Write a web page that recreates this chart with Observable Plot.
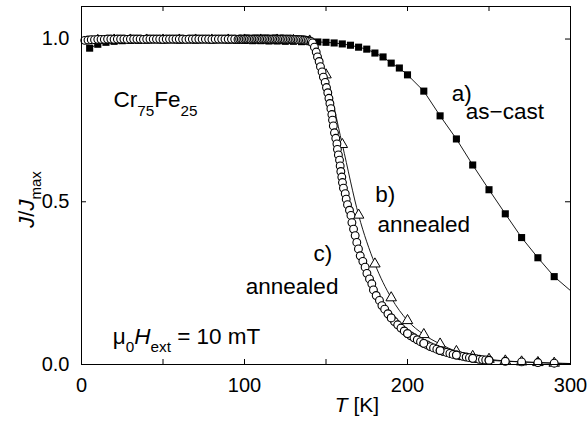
<!DOCTYPE html>
<html><head><meta charset="utf-8">
<script src="https://cdn.jsdelivr.net/npm/d3@7"></script>
<script src="https://cdn.jsdelivr.net/npm/@observablehq/plot@0.6"></script>
<style>html,body{margin:0;padding:0;background:#fff}</style>
</head><body><div id="chart"></div>
<script>
// a) as-cast (filled squares); last value at 300 K is line-only
const aT = [5,10,15,20,25,30,35,40,45,50,55,60,65,70,75,80,85,90,95,100,105,110,115,120,125,130,135,140,145,150,155,160,165,170,175,180,185,190,195,200,210,220,230,240,250,260,270,280,290,300];
const aJ = [0.972,0.984,0.990,0.993,0.995,0.996,0.996,0.997,0.997,0.997,0.997,0.997,0.997,0.997,0.997,0.997,0.997,0.997,0.996,0.996,0.995,0.995,0.994,0.994,0.993,0.993,0.992,0.992,0.991,0.990,0.988,0.985,0.981,0.975,0.969,0.957,0.945,0.926,0.911,0.890,0.840,0.764,0.693,0.613,0.537,0.463,0.390,0.328,0.270,0.227];

// b) annealed (open triangles)
const bT = [10,20,30,40,50,60,70,80,90,100,110,120,130,140,150,160,170,180,190,200,210,220,230,240,250,260,270,280,290,300];
const bJ = [0.996,0.997,0.997,0.997,0.997,0.997,0.997,0.997,0.997,0.997,0.997,0.997,0.996,0.994,0.890,0.676,0.459,0.309,0.205,0.135,0.092,0.063,0.040,0.025,0.016,0.011,0.008,0.006,0.004,0.003];

// c) annealed (open circles, dense measurement)
const cT = [2,4,6,8,10,12,14,16,18,20,22,24,26,28,30,32,34,36,38,40,42,44,46,48,50,52,54,56,58,60,62,64,66,68,70,72,74,76,78,80,82,84,86,88,90,92,94,96,
97,98,99,100,101,102,103,104,105,106,107,108,109,110,111,112,113,114,115,116,117,118,119,120,121,122,123,124,125,126,127,128,129,130,131,132,133,134,135,136,137,138,139,140,141,
141.7,142.9,144.0,144.8,145.8,146.6,147.6,148.4,149.5,150.3,151.1,151.8,152.4,153.0,153.6,154.0,154.5,155.2,156.0,156.7,157.0,157.6,158.3,158.7,159.1,159.7,160.1,160.7,161.8,162.4,163.2,164.4,165.3,165.9,166.9,167.9,168.9,169.9,171.0,172.6,174.0,175.1,176.7,178.1,179.1,180.8,182.8,184.3,
186,188,190,192,194,196,198,200,202,204,206,208,210,212,214,216,218,220,222,224,226,228,230,232,234,236,238,240,242,244,246,248,250];
const cJ = [0.996,0.997,0.998,0.998,0.999,0.999,0.999,1.000,1.000,0.999,1.000,1.000,1.000,0.999,1.000,1.000,1.000,1.000,0.999,1.000,1.000,1.000,1.000,1.000,0.999,1.000,1.000,1.000,1.000,1.000,1.000,0.999,1.000,1.000,1.000,1.000,1.000,1.000,1.000,0.999,1.000,1.000,1.000,1.000,1.000,1.000,1.000,0.999,
1.000,1.000,0.999,1.000,1.000,1.000,1.000,0.999,1.000,1.000,1.000,1.000,1.000,0.999,1.000,1.000,1.000,1.000,1.000,0.999,1.000,1.000,1.000,1.000,0.999,1.000,1.000,1.000,0.999,1.000,0.999,1.000,0.999,0.999,0.999,0.999,0.998,0.998,0.998,0.997,0.997,0.996,0.995,0.994,0.992,
0.988,0.975,0.960,0.945,0.931,0.915,0.899,0.883,0.867,0.851,0.835,0.818,0.802,0.786,0.768,0.751,0.733,0.712,0.695,0.678,0.661,0.644,0.628,0.610,0.593,0.576,0.559,0.542,0.525,0.508,0.491,0.474,0.458,0.436,0.416,0.396,0.375,0.355,0.334,0.317,0.299,0.280,0.263,0.248,0.229,0.212,0.197,0.181,
0.170,0.156,0.143,0.132,0.122,0.112,0.103,0.095,0.088,0.082,0.076,0.070,0.065,0.060,0.055,0.051,0.047,0.043,0.040,0.037,0.034,0.031,0.029,0.027,0.025,0.023,0.021,0.019,0.018,0.016,0.015,0.014,0.013];

// c) circles every 10 K (drawn on top); last value at 300 K is line-only
const c10T = [190,200,210,220,230,240,250,260,270,280,290,300];
const c10J = [0.143,0.095,0.065,0.043,0.029,0.019,0.013,0.010,0.008,0.006,0.004,0.003];

// axes
const xTickLabels = [0,100,200,300];
const xTicks = [50,100,150,200,250];
const yTickLabels = [0,0.5,1.0];
const yTicks = [0.5,1.0];
const xTitle = "*T* [K]";
const yTitle = "*J*/*J*_{max}";

// annotations (markup: _{sub}, *italic*)
const annoText = ["Cr_{75}Fe_{25}","a)","as\u2212cast","b)","annealed","c)","annealed","\u03bc_{0}*H*_{ext} = 10 mT"];
const annoT = [19.6,227.2,235.8,180.2,181.6,142.3,100.8,19.2];
const annoJ = [0.790,0.811,0.753,0.498,0.406,0.319,0.217,0.062];

const zip = (X, Y) => X.map((x, i) => ({T: x, J: Y[i]}));
const aData = zip(aT, aJ), bData = zip(bT, bJ), cData = zip(cT, cJ), c10 = zip(c10T, c10J);
const cLine = cData.concat(c10.filter(d => d.T > 250));
const anno = annoText.map((t, i) => ({label: t, T: annoT[i], J: annoJ[i]}));

const FONT = "'Liberation Sans', Arial, Helvetica, sans-serif";
const W = 587, H = 426, ML = 81, MR = 17, MT = 6, MB = 62;
const PW = W - ML - MR, PH = H - MT - MB, TK = 5;

const chart = Plot.plot({
  width: W, height: H,
  marginLeft: ML, marginRight: MR, marginTop: MT, marginBottom: MB,
  x: {domain: [0, 300]},
  y: {domain: [0, 1.1]},
  style: {fontFamily: FONT, background: "white", color: "black", overflow: "visible"},
  marks: [
    Plot.axisX({ticks: xTickLabels, tickSize: 0, tickPadding: 13, fontSize: 20, label: null}),
    Plot.axisY({ticks: yTickLabels, tickSize: 0, tickPadding: 12, fontSize: 20, label: null, tickFormat: d3.format(".1f")}),
    Plot.tickX(xTicks, {x: d => d, insetTop: PH - TK, stroke: "black"}),
    Plot.tickX(xTicks, {x: d => d, insetBottom: PH - TK, stroke: "black"}),
    Plot.tickY(yTicks, {y: d => d, insetRight: PW - TK, stroke: "black"}),
    Plot.tickY(yTicks, {y: d => d, insetLeft: PW - TK, stroke: "black"}),
    Plot.line(aData, {x: "T", y: "J", stroke: "black", strokeWidth: 0.9}),
    Plot.dot(aData.filter(d => d.T < 300), {x: "T", y: "J", symbol: "square", r: 4.0, fill: "black", stroke: "none"}),
    Plot.line(bData, {x: "T", y: "J", stroke: "black", strokeWidth: 0.9, curve: "monotone-x"}),
    Plot.dot(bData.filter(d => d.T < 300), {x: "T", y: "J", symbol: "triangle", r: 3.9, fill: "white", stroke: "black", strokeWidth: 1}),
    Plot.line(cLine, {x: "T", y: "J", stroke: "black", strokeWidth: 0.9}),
    Plot.dot(cData, {x: "T", y: "J", r: 3.9, fill: "white", stroke: "black", strokeWidth: 1.1}),
    Plot.dot(c10.filter(d => d.T < 300), {x: "T", y: "J", r: 3.9, fill: "white", stroke: "black", strokeWidth: 1.1}),
    Plot.frame({stroke: "black", strokeWidth: 1}),
    Plot.text(anno, {x: "T", y: "J", text: "label", textAnchor: "start", lineAnchor: "bottom", fontSize: 22.5, fill: "black"}),
    Plot.text([xTitle], {frameAnchor: "bottom", dx: 31, dy: 47, fontSize: 21, fill: "black"}),
    Plot.text([yTitle], {frameAnchor: "left", lineAnchor: "bottom", fontSize: 22, fill: "black"})
  ]
});
document.getElementById("chart").appendChild(chart);

// rich text: subscripts and italics as tspans
const NS = "http://www.w3.org/2000/svg";
chart.querySelectorAll("text").forEach(el => {
  const s = el.textContent;
  if (!/[_*]/.test(s)) return;
  const fs = parseFloat(getComputedStyle(el).fontSize);
  const subSize = 0.68 * fs, shift = 0.36 * fs;
  while (el.firstChild) el.removeChild(el.firstChild);
  const re = /(_\{[^}]*\})|(\*[^*]*\*)|([^_*]+)/g;
  let m, low = false;
  while ((m = re.exec(s))) {
    const t = document.createElementNS(NS, "tspan");
    if (m[1]) {
      t.textContent = m[1].slice(2, -1);
      t.setAttribute("font-size", subSize);
      if (!low) { t.setAttribute("dy", shift); low = true; }
    } else {
      if (low) { t.setAttribute("dy", -shift); low = false; }
      if (m[2]) { t.textContent = m[2].slice(1, -1); t.setAttribute("font-style", "italic"); }
      else t.textContent = m[3];
    }
    el.appendChild(t);
  }
  // vertical axis title: rotate and place left of the frame
  if (s === yTitle) {
    el.removeAttribute("x"); el.removeAttribute("y");
    el.setAttribute("text-anchor", "middle");
    el.setAttribute("transform", "translate(33,199) rotate(-90)");
  }
});
</script></body></html>
